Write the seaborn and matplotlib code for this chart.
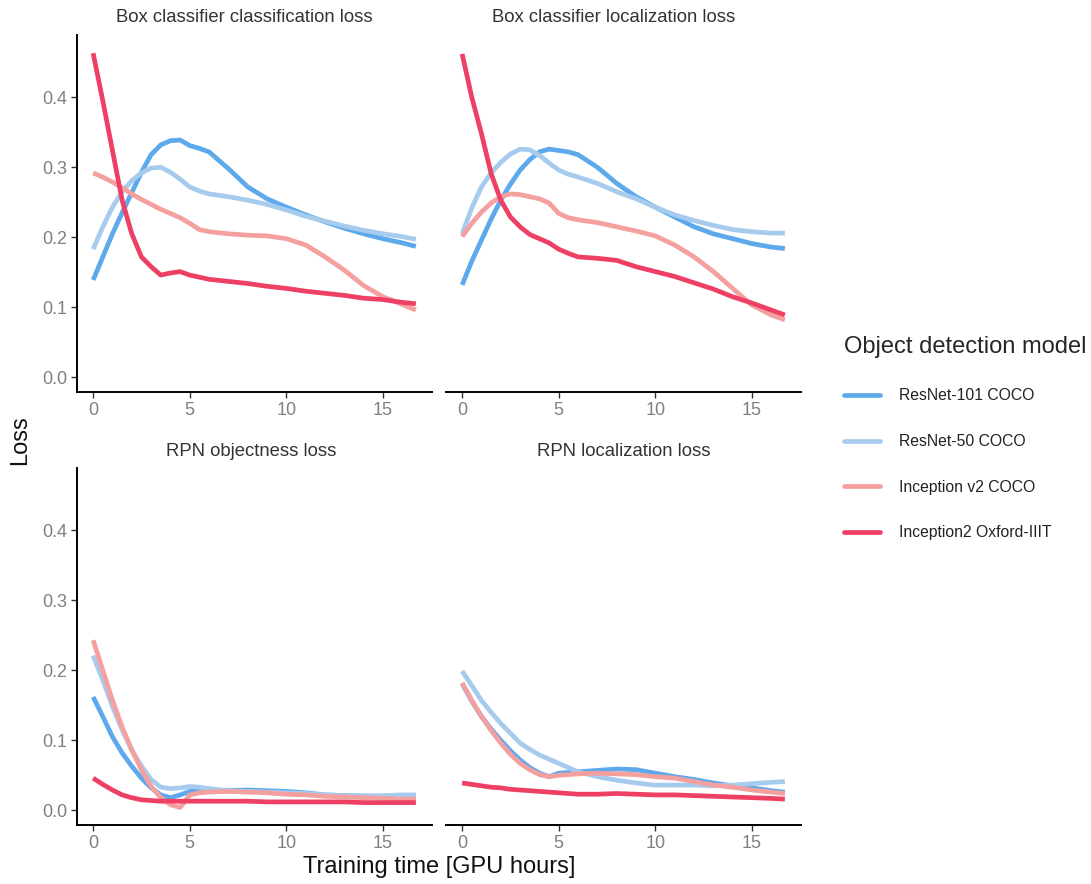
import numpy as np
import pandas as pd
import matplotlib
matplotlib.use("Agg")
import matplotlib.pyplot as plt
import seaborn as sns
from matplotlib.lines import Line2D

# ---------------- data ----------------
models = ["ResNet-101 COCO", "ResNet-50 COCO", "Inception v2 COCO", "Inception2 Oxford-IIIT"]
panels = ["Box classifier classification loss", "Box classifier localization loss",
          "RPN objectness loss", "RPN localization loss"]
hours = [0, 0.5, 1, 1.5, 2, 2.5, 3, 3.5, 4, 4.5, 5, 5.5, 6, 7, 8, 9, 10, 11, 12, 13, 14, 15, 16, 16.7]

cls_r101 = [0.139, 0.172, 0.205, 0.235, 0.264, 0.293, 0.318, 0.332, 0.338, 0.339, 0.331, 0.327, 0.322, 0.298, 0.272, 0.255, 0.243, 0.232, 0.222, 0.213, 0.205, 0.198, 0.192, 0.187]
cls_r50 = [0.183, 0.215, 0.243, 0.265, 0.281, 0.292, 0.299, 0.300, 0.293, 0.283, 0.272, 0.266, 0.262, 0.258, 0.253, 0.247, 0.239, 0.230, 0.223, 0.216, 0.210, 0.205, 0.201, 0.197]
cls_iv2 = [0.292, 0.286, 0.279, 0.271, 0.262, 0.254, 0.247, 0.240, 0.234, 0.228, 0.220, 0.211, 0.208, 0.205, 0.203, 0.202, 0.198, 0.189, 0.172, 0.153, 0.131, 0.115, 0.104, 0.096]
cls_ox = [0.463, 0.395, 0.324, 0.253, 0.205, 0.172, 0.158, 0.146, 0.149, 0.151, 0.146, 0.143, 0.140, 0.137, 0.134, 0.130, 0.127, 0.123, 0.120, 0.117, 0.113, 0.111, 0.107, 0.105]

loc_r101 = [0.132, 0.166, 0.196, 0.226, 0.253, 0.276, 0.296, 0.311, 0.322, 0.326, 0.324, 0.322, 0.318, 0.300, 0.277, 0.258, 0.243, 0.229, 0.215, 0.205, 0.198, 0.191, 0.186, 0.184]
loc_r50 = [0.205, 0.242, 0.272, 0.292, 0.307, 0.319, 0.326, 0.325, 0.317, 0.306, 0.296, 0.290, 0.286, 0.277, 0.265, 0.255, 0.243, 0.232, 0.224, 0.217, 0.211, 0.208, 0.206, 0.206]
loc_iv2 = [0.201, 0.220, 0.236, 0.249, 0.258, 0.262, 0.261, 0.258, 0.255, 0.249, 0.234, 0.228, 0.225, 0.221, 0.215, 0.209, 0.202, 0.189, 0.172, 0.151, 0.127, 0.103, 0.089, 0.082]
loc_ox = [0.462, 0.400, 0.348, 0.291, 0.253, 0.229, 0.215, 0.204, 0.198, 0.192, 0.183, 0.177, 0.172, 0.170, 0.167, 0.158, 0.151, 0.144, 0.135, 0.126, 0.115, 0.106, 0.096, 0.089]

obj_r101 = [0.162, 0.134, 0.105, 0.082, 0.063, 0.046, 0.032, 0.022, 0.018, 0.022, 0.027, 0.028, 0.028, 0.028, 0.029, 0.028, 0.027, 0.025, 0.022, 0.021, 0.020, 0.019, 0.018, 0.018]
obj_r50 = [0.221, 0.186, 0.148, 0.115, 0.086, 0.063, 0.044, 0.033, 0.031, 0.032, 0.034, 0.033, 0.031, 0.028, 0.027, 0.026, 0.025, 0.024, 0.022, 0.021, 0.021, 0.021, 0.022, 0.022]
obj_iv2 = [0.243, 0.200, 0.157, 0.119, 0.086, 0.058, 0.034, 0.018, 0.008, 0.004, 0.022, 0.025, 0.026, 0.027, 0.026, 0.025, 0.023, 0.022, 0.020, 0.019, 0.018, 0.017, 0.016, 0.016]
obj_ox = [0.046, 0.037, 0.029, 0.022, 0.018, 0.015, 0.014, 0.013, 0.013, 0.013, 0.013, 0.013, 0.013, 0.013, 0.013, 0.012, 0.012, 0.012, 0.012, 0.012, 0.011, 0.011, 0.011, 0.011]

rpnloc_r101 = [0.181, 0.156, 0.134, 0.116, 0.100, 0.085, 0.072, 0.061, 0.053, 0.048, 0.053, 0.054, 0.055, 0.057, 0.059, 0.058, 0.053, 0.048, 0.044, 0.039, 0.035, 0.032, 0.028, 0.026]
rpnloc_r50 = [0.199, 0.178, 0.157, 0.140, 0.124, 0.110, 0.096, 0.087, 0.079, 0.073, 0.067, 0.061, 0.055, 0.048, 0.043, 0.039, 0.036, 0.036, 0.036, 0.035, 0.036, 0.038, 0.040, 0.041]
rpnloc_iv2 = [0.182, 0.157, 0.134, 0.114, 0.096, 0.080, 0.067, 0.058, 0.051, 0.048, 0.050, 0.051, 0.052, 0.053, 0.052, 0.051, 0.048, 0.046, 0.041, 0.036, 0.033, 0.029, 0.026, 0.024]
rpnloc_ox = [0.039, 0.037, 0.035, 0.033, 0.032, 0.030, 0.029, 0.028, 0.027, 0.026, 0.025, 0.024, 0.023, 0.023, 0.024, 0.023, 0.022, 0.022, 0.021, 0.020, 0.019, 0.018, 0.017, 0.016]

colors = ["#5DA9EC", "#A7CBED", "#F4A09F", "#EE4064"]

series = {
    panels[0]: [cls_r101, cls_r50, cls_iv2, cls_ox],
    panels[1]: [loc_r101, loc_r50, loc_iv2, loc_ox],
    panels[2]: [obj_r101, obj_r50, obj_iv2, obj_ox],
    panels[3]: [rpnloc_r101, rpnloc_r50, rpnloc_iv2, rpnloc_ox],
}

rows = []
for p, lst in series.items():
    for m, vals in zip(models, lst):
        for h, v in zip(hours, vals):
            rows.append({"panel": p, "model": m, "hours": h, "loss": v})
df = pd.DataFrame(rows)

# ---------------- style ----------------
sns.set_theme(style="white")
plt.rcParams['font.family'] = ['Liberation Sans', 'DejaVu Sans']

fig = plt.figure(figsize=(10.91, 8.84), dpi=100)
W, H = 1091, 884
boxes = [(77, 35, 432, 392), (446, 35, 801, 392), (77, 468, 432, 825), (446, 468, 801, 825)]
title_x = [0.472, 0.472, 0.49, 0.5]
palette = dict(zip(models, colors))
tick_col = "#808080"

for i, (p, (l, t, r, b)) in enumerate(zip(panels, boxes)):
    ax = fig.add_axes([l / W, (H - b) / H, (r - l) / W, (b - t) / H])
    sns.lineplot(data=df[df.panel == p], x="hours", y="loss", hue="model",
                 hue_order=models, palette=palette, linewidth=3.4, ax=ax,
                 legend=False, sort=True)
    for ln in ax.get_lines():
        ln.set_solid_joinstyle("round")
        ln.set_solid_capstyle("butt")
    ax.set_xlim(-0.835, 17.535)
    ax.set_ylim(-0.021, 0.489)
    ax.set_xticks([0, 5, 10, 15])
    ax.set_yticks([0.0, 0.1, 0.2, 0.3, 0.4])
    ax.set_xlabel("")
    ax.set_ylabel("")
    ax.set_title(p, fontsize=13.3, color="#333333", pad=9, x=title_x[i])
    for s in ["top", "right"]:
        ax.spines[s].set_visible(False)
    ax.spines["bottom"].set_color("black")
    ax.spines["bottom"].set_linewidth(1.4)
    ax.spines["left"].set_color("black")
    ax.spines["left"].set_linewidth(1.4)
    ax.tick_params(axis="both", which="both", direction="out", length=4, width=1.0,
                   color="#333333", labelcolor=tick_col, labelsize=13, pad=3,
                   bottom=True, left=True)
    ax.set_yticklabels(["0.0", "0.1", "0.2", "0.3", "0.4"])
    if i % 2 == 1:
        ax.spines["left"].set_visible(False)
        ax.tick_params(axis="y", left=False, labelleft=False)

fig.text(20 / W, 1 - 440 / H, "Loss", rotation=90, ha="center", va="center",
         fontsize=17, color="#111111")
fig.text(439 / W, 1 - 867 / H, "Training time [GPU hours]", ha="center", va="center",
         fontsize=17, color="#111111")

handles = [Line2D([0], [0], color=c, lw=3.4) for c in colors]
leg = fig.legend(handles, models, loc="center left",
                 bbox_to_anchor=(830 / W, 1 - 438 / H), frameon=False,
                 title="Object detection model", fontsize=11.3, title_fontsize=17,
                 handlelength=2.3, labelspacing=1.95, handletextpad=1.2)
leg._legend_box.align = "left"
for txt in leg.get_texts():
    txt.set_color("#222222")

fig.savefig("out.png", dpi=100)
